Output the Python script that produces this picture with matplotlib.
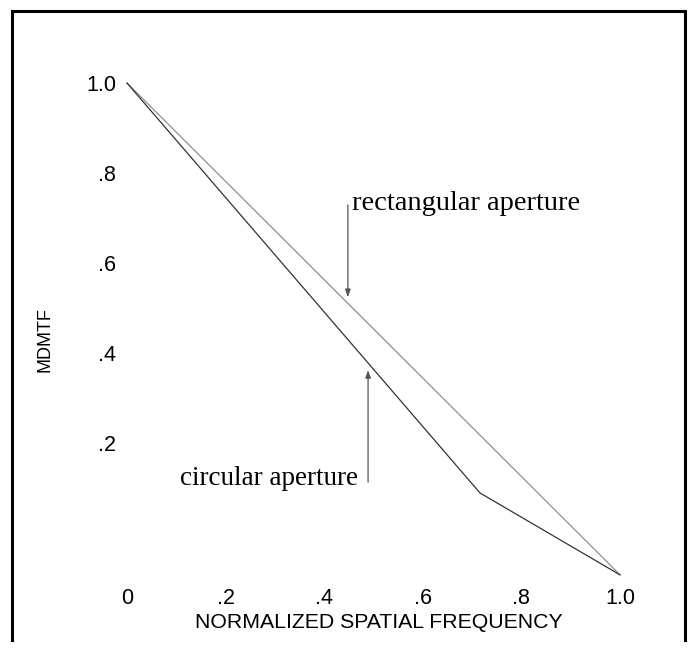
import matplotlib
matplotlib.use("Agg")
import matplotlib.pyplot as plt
from matplotlib.lines import Line2D

# values
freq_rect = [0.0, 1.0]
mtf_rect = [1.0, -0.093]
freq_circ = [0.0, 0.716, 1.0]
mtf_circ = [1.0, 0.089, -0.093]
xticks = [0, 0.2, 0.4, 0.6, 0.8, 1.0]
xtick_labels = ["0", ".2", ".4", ".6", ".8", "1.0"]
yticks = [0.2, 0.4, 0.6, 0.8, 1.0]
ytick_labels = [".2", ".4", ".6", ".8", "1.0"]

W, H = 688, 650
fig = plt.figure(figsize=(W / 100, H / 100), dpi=100)

# axes placed in pixels: x 0->127px, 1->620px ; y 1.0->83px, 0->533px
px_per_x = 493.0
px_per_y = 450.0
ymin, ymax = -0.1, 1.0
xmin, xmax = 0.0, 1.0
left = 127 + xmin * px_per_x
bottom_px = 533 - ymin * px_per_y
top_px = 533 - ymax * px_per_y
ax = fig.add_axes([left / W, 1 - bottom_px / H, (xmax - xmin) * px_per_x / W,
                   (bottom_px - top_px) / H])
ax.set_xlim(xmin, xmax)
ax.set_ylim(ymin, ymax)

ax.plot(freq_rect, mtf_rect, color="#8f8f8f", lw=0.9, clip_on=False)
ax.plot(freq_circ, mtf_circ, color="#333333", lw=0.9, clip_on=False)

for s in ax.spines.values():
    s.set_visible(False)
ax.set_xticks(xticks)
ax.set_xticklabels(xtick_labels)
ax.set_yticks(yticks)
ax.set_yticklabels(ytick_labels)
ax.tick_params(length=0, labelsize=15.5)
ax.tick_params(axis="x", pad=7)
ax.tick_params(axis="y", pad=8)
for lab in ax.get_xticklabels() + ax.get_yticklabels():
    lab.set_family("Liberation Sans")

ax.set_xlabel("NORMALIZED SPATIAL FREQUENCY", family="Liberation Sans",
              fontsize=15.3)
ax.xaxis.set_label_coords(379 / W, 1 - 622 / H, transform=fig.transFigure)
ax.xaxis.label.set_va("center")
ax.set_ylabel("MDMTF", family="Liberation Sans", fontsize=13)
ax.yaxis.set_label_coords(45 / W, 1 - 340 / H, transform=fig.transFigure)
ax.yaxis.label.set_va("center")

# annotations
arrow = dict(arrowstyle="-|>,head_length=0.45,head_width=0.16",
             color="#555555", lw=0.9, shrinkA=0, shrinkB=0)
ax.annotate("", xy=(0.448, 0.524), xytext=(0.448, 0.729), arrowprops=arrow)
ax.text(0.456, 0.733, "rectangular aperture", family="Liberation Serif",
        fontsize=20.5, ha="left", va="center")
ax.annotate("", xy=(0.489, 0.362), xytext=(0.489, 0.113), arrowprops=arrow)
ax.text(0.469, 0.122, "circular aperture", family="Liberation Serif",
        fontsize=19.5, ha="right", va="center")

# open frame (no bottom edge)
lx, rx, ty, by = 12, 685, 11, 640
fr = dict(color="black", lw=2.2, solid_capstyle="projecting",
          solid_joinstyle="miter", transform=fig.transFigure)
fig.add_artist(Line2D([lx / W, lx / W, rx / W, rx / W],
                      [1 - by / H, 1 - ty / H, 1 - ty / H, 1 - by / H], **fr))

fig.savefig("out.png", dpi=100)
